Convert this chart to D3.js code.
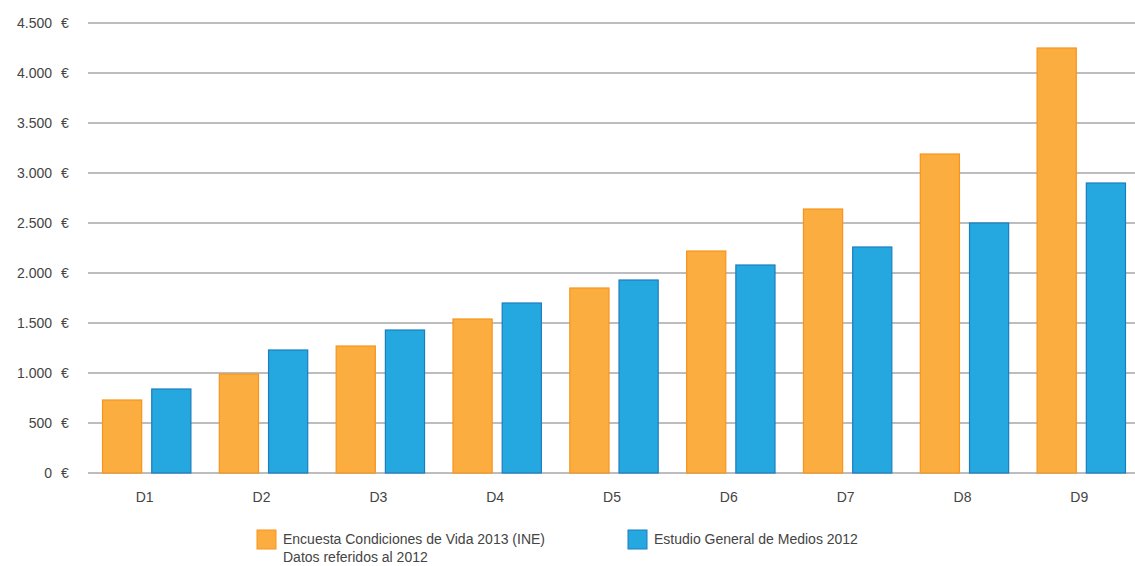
<!DOCTYPE html>
<html>
<meta charset="utf-8">
<script src="https://d3js.org/d3.v7.min.js"></script>
<style>
  body { margin: 0; background: #fff; }
  text { font-family: "Liberation Sans", Arial, sans-serif; fill: #444; }
</style>
<body>
<div id="my_dataviz"></div>
<script>

// data
var deciles = ["D1", "D2", "D3", "D4", "D5", "D6", "D7", "D8", "D9"];
var ecv = [730, 990, 1270, 1540, 1850, 2220, 2640, 3190, 4250];
var egm = [840, 1230, 1430, 1700, 1930, 2080, 2260, 2500, 2900];
var seriesNames = ["Encuesta Condiciones de Vida 2013 (INE)", "Estudio General de Medios 2012"];
var yTicks = [0, 500, 1000, 1500, 2000, 2500, 3000, 3500, 4000, 4500];

var width = 1135, height = 566;
var fills = ["#FBAD3F", "#25A8E0"];
var strokes = ["#F7941D", "#1C7DBE"];

var svg = d3.select("#my_dataviz")
  .append("svg")
    .attr("width", width)
    .attr("height", height);

var x0 = d3.scaleBand()
    .domain(deciles)
    .range([88, 1140])
    .paddingInner(0.235)
    .paddingOuter(0.12);

var x1 = d3.scaleBand()
    .domain([0, 1])
    .range([0, x0.bandwidth()])
    .paddingInner(0.184);

var y = d3.scaleLinear()
    .domain([0, 4500])
    .range([473, 23]);

// y labels: number right-aligned, euro sign in its own column
var fmt = function(d) { return d3.format(",")(d).replace(/,/g, "."); };
var ticks = svg.append("g")
  .selectAll("g")
  .data(yTicks)
  .enter()
  .append("g")
    .attr("transform", function(d) { return "translate(0," + y(d) + ")"; });

ticks.append("text")
    .attr("x", 52)
    .attr("dy", "0.35em")
    .attr("text-anchor", "end")
    .style("font-size", "14px")
    .text(fmt);

ticks.append("text")
    .attr("x", 61)
    .attr("dy", "0.35em")
    .style("font-size", "14px")
    .text("€");

// grid lines
svg.append("g")
  .selectAll("line")
  .data(yTicks)
  .enter()
  .append("line")
    .attr("x1", 88)
    .attr("x2", width)
    .attr("y1", function(d) { return y(d); })
    .attr("y2", function(d) { return y(d); })
    .attr("stroke", "#a7a7aa")
    .attr("stroke-width", 1.6);

// bars
var groups = svg.append("g")
  .selectAll("g")
  .data(deciles)
  .enter()
  .append("g")
    .attr("transform", function(d) { return "translate(" + x0(d) + ",0)"; });

groups.selectAll("rect")
  .data(function(d, i) { return [ecv[i], egm[i]]; })
  .enter()
  .append("rect")
    .attr("x", function(d, j) { return x1(j) + 0.5; })
    .attr("width", x1.bandwidth() - 1)
    .attr("y", function(d) { return y(d); })
    .attr("height", function(d) { return y(0) - y(d); })
    .attr("fill", function(d, j) { return fills[j]; })
    .attr("stroke", function(d, j) { return strokes[j]; })
    .attr("stroke-width", 1.2);

// x labels
svg.append("g")
  .selectAll("text")
  .data(deciles)
  .enter()
  .append("text")
    .attr("x", function(d) { return x0(d) + x0.bandwidth() / 2 - 2; })
    .attr("y", 502)
    .attr("text-anchor", "middle")
    .style("font-size", "14px")
    .text(function(d) { return d; });

// legend
var legX = [257, 628];
var leg = svg.append("g")
  .selectAll("g")
  .data(seriesNames)
  .enter()
  .append("g")
    .attr("transform", function(d, i) { return "translate(" + legX[i] + ",530)"; });

leg.append("rect")
    .attr("width", 19)
    .attr("height", 19)
    .attr("fill", function(d, i) { return fills[i]; })
    .attr("stroke", function(d, i) { return strokes[i]; })
    .attr("stroke-width", 1);

leg.append("text")
    .attr("x", 26)
    .attr("y", 14)
    .style("font-size", "14px")
    .text(function(d) { return d; });

svg.append("text")
    .attr("x", 283)
    .attr("y", 562)
    .style("font-size", "14px")
    .text("Datos referidos al 2012");

</script>
</body>
</html>
